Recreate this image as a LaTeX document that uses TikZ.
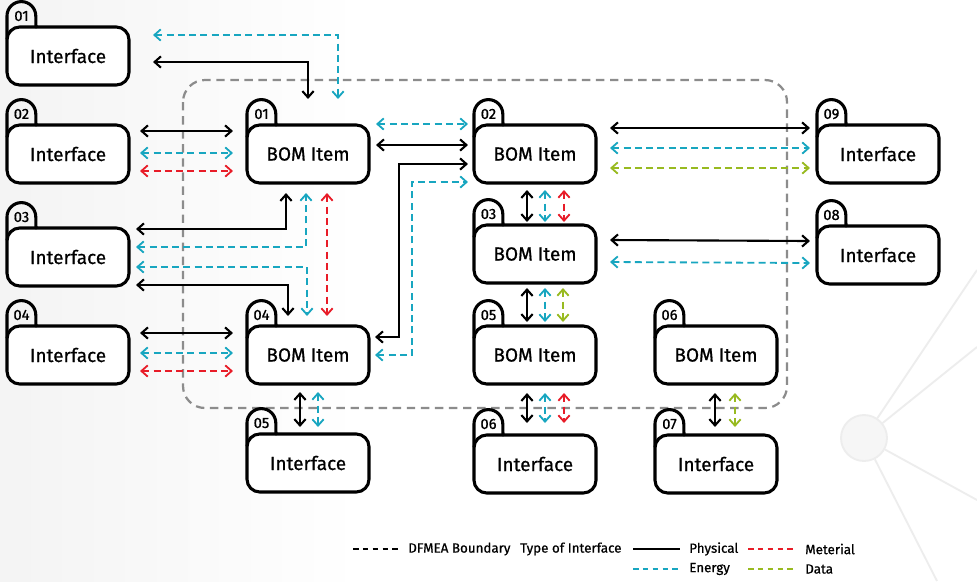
\documentclass[tikz,border=0pt]{standalone}
\usepackage{fontspec}
\setmainfont{Fira Sans}[FakeBold=0.8]
\usetikzlibrary{calc,positioning,arrows.meta}

\definecolor{cEnergy}{RGB}{24,166,192}
\definecolor{cMeterial}{RGB}{232,28,40}
\definecolor{cData}{RGB}{152,186,32}
\definecolor{cBoundary}{RGB}{140,140,140}

\tikzset{
	item/.style={draw, line width=2.2pt, rounded corners=0.32cm, outer sep=0pt,
		minimum width=3.05cm, minimum height=1.45cm, fill=white,
		font=\fontsize{13.5}{16}\selectfont},
	tabline/.style={line width=2.2pt, line join=round, line cap=round},
	tabnum/.style={inner sep=0pt, font=\fontsize{10.5}{12}\selectfont},
	link/.style={line width=1.5pt,
		{Straight Barb[length=4.5pt,width=8pt]}-{Straight Barb[length=4.5pt,width=8pt]}},
	physline/.style={link, black},
	energyline/.style={link, cEnergy, line width=1.3pt, dash pattern=on 5pt off 3pt},
	meterialline/.style={link, cMeterial, line width=1.3pt, dash pattern=on 5pt off 3pt},
	dataline/.style={link, cData, line width=1.3pt, dash pattern=on 5pt off 3pt},
	boundary/.style={draw=cBoundary, line width=1.6pt, dash pattern=on 6pt off 4pt,
		rounded corners=0.55cm},
	legtext/.style={anchor=west, inner sep=0pt, font=\fontsize{9.5}{11}\selectfont},
	hub/.style={circle, draw=gray!14, fill=gray!7, line width=1.3pt, minimum size=1.15cm},
	deco/.style={draw=gray!14, line width=1.3pt}
}

% tab with the number on top of a box
\newcommand{\tabon}[2]{%
	\draw[tabline] ($(#1.north west)+(0,12)$) -- ($(#1.north west)+(0,-11)$)
		arc[start angle=180,end angle=0,radius=0.36cm] -- ($(#1.north west)+(29,0)$);
	\node[tabnum] (#1-no) at ($(#1.north west)+(14.5,-11)$) {#2};
}

\begin{document}
\begin{tikzpicture}[x=0.025cm,y=-0.025cm]
	\useasboundingbox (0,0) rectangle (977,581);
	\fill[white] (0,0) rectangle (977,581);
	\shade[left color=gray!9, right color=white] (0,0) rectangle (360,581);

	% background
	\node[hub] (hub) at (864,438) {};
	\draw[deco] (hub) -- (977,270);
	\draw[deco] (hub) -- (977,347);
	\draw[deco] (hub) -- (977,500);
	\draw[deco] (hub) -- (937,581);

	\draw[boundary] (183,80) rectangle (787,408);

	% interfaces
	\node[item] (i1) at (68,56) {Interface};
	\node[item] (i2) at (68,154) {Interface};
	\node[item] (i3) at (68,257) {Interface};
	\node[item] (i4) at (68,355) {Interface};
	\node[item] (i5) at (308,463) {Interface};
	\node[item] (i6) at (535,464) {Interface};
	\node[item] (i7) at (716,464) {Interface};
	\node[item] (i8) at (878,255) {Interface};
	\node[item] (i9) at (878,154) {Interface};

	% BOM items
	\node[item] (b1) at (308,154) {BOM Item};
	\node[item] (b2) at (535,154) {BOM Item};
	\node[item] (b3) at (535,254) {BOM Item};
	\node[item] (b4) at (308,355) {BOM Item};
	\node[item] (b5) at (535,355) {BOM Item};
	\node[item] (b6) at (716,355) {BOM Item};

	\tabon{i1}{01} \tabon{i2}{02} \tabon{i3}{03} \tabon{i4}{04} \tabon{i5}{05}
	\tabon{i6}{06} \tabon{i7}{07} \tabon{i8}{08} \tabon{i9}{09}
	\tabon{b1}{01} \tabon{b2}{02} \tabon{b3}{03} \tabon{b4}{04} \tabon{b5}{05}
	\tabon{b6}{06}

	% left side
	\draw[physline] ($(i1.east)+(24,6)$) -| ($(b1.north)+(0,-26)$);
	\draw[energyline] ($(i1.east)+(24,-21)$) -| ($(b1.north)+(30,-26)$);

	\draw[physline] ($(i2.east)+(11,-23)$) -- ($(b1.west)+(-14,-23)$);
	\draw[energyline] ($(i2.east)+(11,-1)$) -- ($(b1.west)+(-14,-1)$);
	\draw[meterialline] ($(i2.east)+(11,17)$) -- ($(b1.west)+(-14,17)$);

	\draw[physline] ($(i3.east)+(7,-28)$) -| ($(b1.south)+(-22,10)$);
	\draw[energyline] ($(i3.east)+(7,-10)$) -| ($(b1.south)+(-2,10)$);
	\draw[energyline] ($(i3.east)+(7,10)$) -| ($(b4.north)+(-1,-10)$);
	\draw[physline] ($(i3.east)+(7,28)$) -| ($(b4.north)+(-20,-10)$);
	\draw[meterialline] ($(b1.south)+(19,10)$) -- ($(b4.north)+(19,-10)$);

	\draw[physline] ($(i4.east)+(11,-22)$) -- ($(b4.west)+(-14,-22)$);
	\draw[energyline] ($(i4.east)+(11,-2)$) -- ($(b4.west)+(-14,-2)$);
	\draw[meterialline] ($(i4.east)+(11,16)$) -- ($(b4.west)+(-14,16)$);

	% between the BOM items
	\draw[energyline] ($(b1.east)+(7,-30)$) -- ($(b2.west)+(-6,-30)$);
	\draw[physline] ($(b1.east)+(7,-9)$) -- ($(b2.west)+(-6,-9)$);
	\draw[physline] ($(b4.east)+(6,-18)$) -- ++(24,0) |- ($(b2.west)+(-6,10)$);
	\draw[energyline] ($(b4.east)+(6,0)$) -- ++(37,0) |- ($(b2.west)+(-6,28)$);

	\draw[physline] ($(b2.south)+(-8,7)$) -- ($(b3.north)+(-8,-3)$);
	\draw[energyline] ($(b2.south)+(10,7)$) -- ($(b3.north)+(10,-3)$);
	\draw[meterialline] ($(b2.south)+(29,7)$) -- ($(b3.north)+(29,-3)$);

	\draw[physline] ($(b3.south)+(-8,5)$) -- ($(b5.north)+(-8,-4)$);
	\draw[energyline] ($(b3.south)+(10,5)$) -- ($(b5.north)+(10,-4)$);
	\draw[dataline] ($(b3.south)+(28,5)$) -- ($(b5.north)+(28,-4)$);

	% bottom
	\draw[physline] ($(b4.south)+(-8,8)$) -- ($(i5.north)+(-8,-7)$);
	\draw[energyline] ($(b4.south)+(10,8)$) -- ($(i5.north)+(10,-7)$);

	\draw[physline] ($(b5.south)+(-8,9)$) -- ($(i6.north)+(-8,-12)$);
	\draw[energyline] ($(b5.south)+(10,9)$) -- ($(i6.north)+(10,-12)$);
	\draw[meterialline] ($(b5.south)+(29,9)$) -- ($(i6.north)+(29,-12)$);

	\draw[physline] ($(b6.south)+(-1,9)$) -- ($(i7.north)+(-1,-8)$);
	\draw[dataline] ($(b6.south)+(19,9)$) -- ($(i7.north)+(19,-8)$);

	% right side
	\draw[physline] ($(b2.east)+(14,-26)$) -- ($(i9.west)+(-7,-26)$);
	\draw[energyline] ($(b2.east)+(14,-6)$) -- ($(i9.west)+(-7,-6)$);
	\draw[dataline] ($(b2.east)+(14,14)$) -- ($(i9.west)+(-7,14)$);

	\draw[physline] ($(b3.east)+(14,-14)$) -- ($(i8.west)+(-7,-14)$);
	\draw[energyline] ($(b3.east)+(14,8)$) -- ($(i8.west)+(-7,8)$);

	% legend
	\node[legtext] (lb) at (408,549) {DFMEA Boundary};
	\node[legtext] (lt) at (520,549) {Type of Interface};
	\node[legtext] (lp) at (689,549) {Physical};
	\node[legtext] (lm) at (805,549) {Meterial};
	\node[legtext] (le) at (689,569) {Energy};
	\node[legtext] (ld) at (805,569) {Data};

	\draw[line width=1.2pt, dash pattern=on 4pt off 3pt] ($(lb.west)+(-55,0)$) -- ($(lb.west)+(-8,0)$);
	\draw[line width=1.8pt] ($(lp.west)+(-56,0)$) -- ($(lp.west)+(-9,0)$);
	\draw[cMeterial, line width=1.3pt, dash pattern=on 4pt off 3pt] ($(lm.west)+(-57,0)$) -- ($(lm.west)+(-9,0)$);
	\draw[cEnergy, line width=1.3pt, dash pattern=on 4pt off 3pt] ($(le.west)+(-56,0)$) -- ($(le.west)+(-9,0)$);
	\draw[cData, line width=1.3pt, dash pattern=on 4pt off 3pt] ($(ld.west)+(-57,0)$) -- ($(ld.west)+(-9,0)$);
\end{tikzpicture}
\end{document}
